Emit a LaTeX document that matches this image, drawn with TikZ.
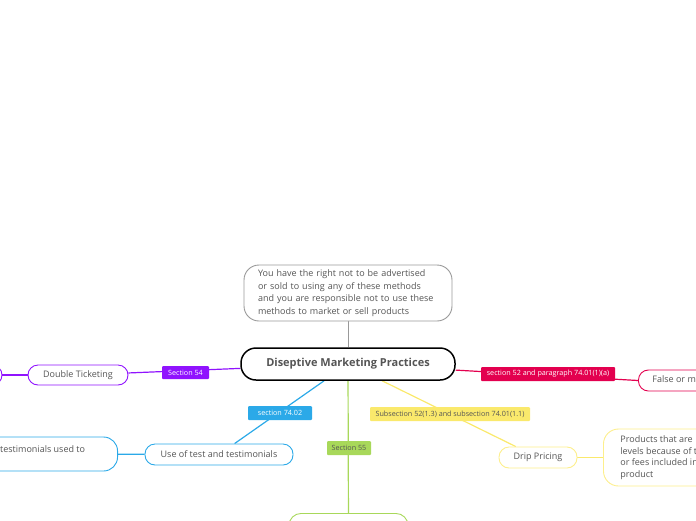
\documentclass[tikz,border=0pt]{standalone}
\usepackage{fontspec}
\setmainfont{Open Sans}
\usetikzlibrary{backgrounds}
\definecolor{cpurple}{HTML}{9013FE}
\definecolor{cred}{HTML}{E3004F}
\definecolor{cblue}{HTML}{2BA9E8}
\definecolor{cgreen}{HTML}{A8D85A}
\definecolor{cyellow}{HTML}{FAE96C}
\definecolor{cyelnode}{HTML}{FDEF8C}
\definecolor{ctext}{HTML}{555555}
\definecolor{cgray}{HTML}{999999}
\tikzset{
  topic/.style={draw, fill=white, rounded corners=10pt, line width=0.9pt, text=ctext,
    font=\fontsize{9}{11}\selectfont, inner sep=0pt},
  lbl/.style={fill=#1, rounded corners=1pt, inner sep=0pt, text=white,
    font=\fontsize{7.2}{8}\selectfont, minimum height=14pt},
  conn/.style={line width=1.2pt, draw=#1}
}
\begin{document}
\begin{tikzpicture}[x=1pt,y=-1pt]
\useasboundingbox (0,0) rectangle (696,520);
\clip (0,0) rectangle (696,520);
% note
\node[topic, draw=cgray, rounded corners=15pt, minimum width=208pt, minimum height=56pt,
  text width=180pt, align=left, font=\fontsize{9}{12.5}\selectfont] (note) at (348,293)
  {You have the right not to be advertised\\or sold to using any of these methods\\and you are responsible not to use these\\methods to market or sell products};
% central
\node[draw=black, fill=white, line width=1.5pt, rounded corners=15pt, minimum width=214pt,
  minimum height=32pt, text=ctext, font=\fontsize{11}{13}\selectfont\bfseries] (central) at (348,364)
  {Diseptive Marketing Practices};
% purple
\node[lbl=cpurple, minimum width=47pt, minimum height=13pt] (s54) at (185.5,372.5) {Section 54};
\node[topic, draw=cpurple, minimum width=100pt, minimum height=20pt] (dt) at (78,375) {Double Ticketing};
\node[topic, draw=cpurple, minimum width=80pt, minimum height=20pt] (pl) at (-38,375) {};
% red
\node[lbl=cred, minimum width=134pt] (s52) at (548,374) {section 52 and paragraph 74.01(1)(a)};
\node[topic, draw=cred, minimum height=21pt, anchor=west, inner xsep=14pt] (fm) at (638,380.5) {False or misleading};
% blue
\node[lbl=cblue, minimum width=64pt] (s7402) at (280,413) {section 74.02\hspace{10pt}};
\node[topic, draw=cblue, minimum width=148pt, minimum height=21pt] (ut) at (219,454.5) {Use of test and testimonials};
\node[topic, draw=cblue, rounded corners=14pt, minimum width=180pt, minimum height=34pt, anchor=east] (tu) at (118,454) {};
\node[text=ctext, font=\fontsize{9}{12.5}\selectfont, anchor=west, inner sep=0pt] (tut) at (0,449) {testimonials used to};
% green
\node[lbl=cgreen, minimum width=44pt, text=ctext] (s55) at (349,448) {Section 55};
\node[topic, draw=cgreen, rounded corners=12pt, minimum width=119pt, minimum height=40pt, anchor=north] (gb) at (348.5,513) {};
% yellow
\node[lbl=cyellow, minimum width=160pt, text=ctext] (s521) at (450,414) {Subsection 52(1.3) and subsection 74.01(1.1)};
\node[topic, draw=cyelnode, minimum width=78pt, minimum height=21pt] (dp) at (538,457.5) {Drip Pricing};
\node[topic, draw=cyelnode, rounded corners=15pt, minimum height=57pt, anchor=west, inner xsep=17pt,
  align=left, font=\fontsize{9}{11.5}\selectfont] (pr) at (603,457.5)
  {Products that are\\levels because of the\\or fees included in\\product\vphantom{g}};
\begin{scope}[on background layer]
\draw[conn=cgray, line width=1pt] (note) -- (central);
\draw[conn=cpurple] (central) -- (dt);
\draw[conn=cpurple] (dt) -- (pl);
\draw[conn=cred] (central) -- (fm.west);
\draw[conn=cblue] (central) -- (ut);
\draw[conn=cblue] (ut) -- (tu);
\draw[conn=cgreen] (central) -- (gb);
\draw[conn=cyellow] (central) -- (dp);
\draw[conn=cyellow] (dp) -- (pr);
\end{scope}
\end{tikzpicture}
\end{document}
